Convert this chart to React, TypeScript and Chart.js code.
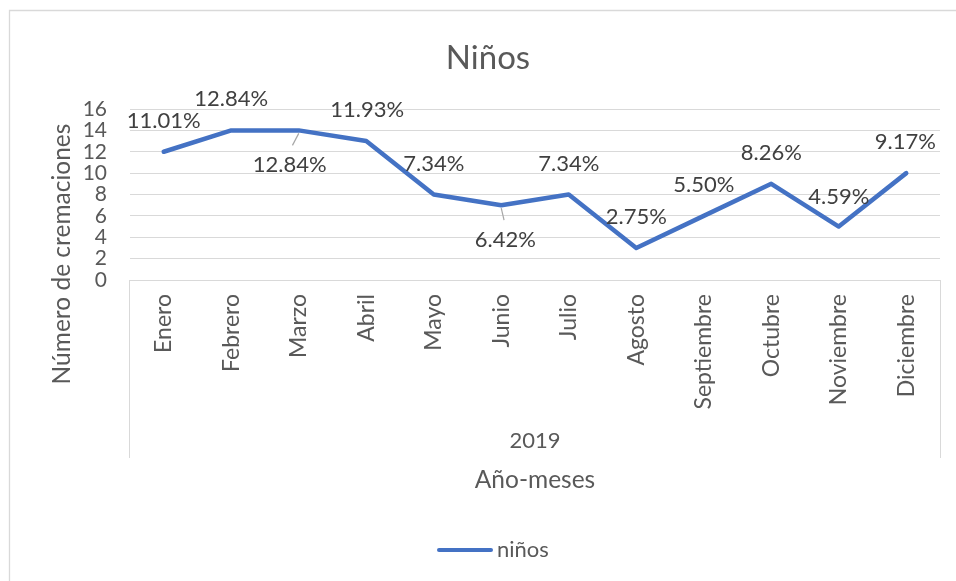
import React, { useEffect, useRef } from "react";
import { Chart, registerables } from "chart.js";

Chart.register(...registerables);

// Monthly cremation counts (children), 2019
const months = [
  "Enero", "Febrero", "Marzo", "Abril", "Mayo", "Junio",
  "Julio", "Agosto", "Septiembre", "Octubre", "Noviembre", "Diciembre",
];
const ninos = [12, 14, 14, 13, 8, 7, 8, 3, 6, 9, 5, 10];
const yTicks = [0, 2, 4, 6, 8, 10, 12, 14, 16];
const yearLabel = "2019";
const seriesName = "niños";

// Where each percentage label sits relative to its point (dx, dy)
const labelOffsets: [number, number][] = [
  [0, -31], [0, -31], [-9, 35], [1, -31], [0, -31], [4, 35],
  [0, -31], [0, -31], [0, -31], [0, -31], [0, -30], [-1, -31],
];
// Labels pulled away from their point get a short leader line
const leaderIdx = [2, 5];

const FONT = "Lato, 'Open Sans', sans-serif";
const TEXT = "#595959";
const LABEL = "#404040";
const GRID = "#d9d9d9";
const BLUE = "#4472C4";

const total = ninos.reduce((a, b) => a + b, 0);
const pctLabels = ninos.map((v) => ((v / total) * 100).toFixed(2) + "%");

const decorPlugin = {
  id: "decor",
  beforeDraw(chart: any) {
    const { ctx, chartArea, width, height } = chart;
    ctx.save();
    ctx.fillStyle = "#ffffff";
    ctx.fillRect(0, 0, width, height);
    // outer frame
    ctx.strokeStyle = GRID;
    ctx.lineWidth = 1.3;
    ctx.beginPath();
    ctx.moveTo(9.5, height + 2);
    ctx.lineTo(9.5, 10.5);
    ctx.lineTo(width + 2, 10.5);
    ctx.stroke();
    // category group box sides
    ctx.lineWidth = 1;
    ctx.beginPath();
    ctx.moveTo(Math.round(chartArea.left) - 0.5, chartArea.bottom);
    ctx.lineTo(Math.round(chartArea.left) - 0.5, 458);
    ctx.moveTo(Math.round(chartArea.right) + 0.5, chartArea.bottom);
    ctx.lineTo(Math.round(chartArea.right) + 0.5, 458);
    ctx.stroke();
    ctx.restore();
  },
  afterDraw(chart: any) {
    const { ctx, chartArea } = chart;
    const midX = (chartArea.left + chartArea.right) / 2;
    ctx.save();
    ctx.textAlign = "center";
    ctx.textBaseline = "middle";
    // title
    ctx.fillStyle = TEXT;
    ctx.font = `33px ${FONT}`;
    ctx.fillText("Niños", 488, 58);
    // group label and axis titles
    ctx.font = `22px ${FONT}`;
    ctx.fillText(yearLabel, midX, 441);
    ctx.font = `24.5px ${FONT}`;
    ctx.fillText("Año-meses", midX, 480);
    ctx.save();
    ctx.translate(62, 254);
    ctx.rotate(-Math.PI / 2);
    ctx.fillText("Número de cremaciones", 0, 0);
    ctx.restore();

    // legend: line sample + series name
    const ds = chart.data.datasets[0];
    ctx.strokeStyle = ds.borderColor;
    ctx.lineWidth = 4;
    ctx.lineCap = "round";
    ctx.beginPath();
    ctx.moveTo(439, 550);
    ctx.lineTo(491, 550);
    ctx.stroke();
    ctx.textAlign = "left";
    ctx.font = `22px ${FONT}`;
    ctx.fillStyle = TEXT;
    ctx.fillText(seriesName, 497, 550);

    // percentage labels
    ctx.textAlign = "center";
    const meta = chart.getDatasetMeta(0);
    ctx.font = `22px ${FONT}`;
    ctx.fillStyle = LABEL;
    ctx.lineCap = "butt";
    meta.data.forEach((pt: any, i: number) => {
      const [dx, dy] = labelOffsets[i];
      const lx = pt.x + dx;
      const ly = pt.y + dy;
      if (leaderIdx.includes(i)) {
        ctx.strokeStyle = "#a6a6a6";
        ctx.lineWidth = 1.2;
        ctx.beginPath();
        ctx.moveTo(pt.x, pt.y + 3);
        ctx.lineTo(pt.x + dx * 0.7, ly - 20);
        ctx.stroke();
      }
      ctx.fillText(pctLabels[i], lx, ly);
    });
    ctx.restore();
  },
};

export default function App() {
  const ref = useRef<HTMLCanvasElement>(null);

  useEffect(() => {
    if (!ref.current) return;
    const chart = new Chart(ref.current, {
      type: "line",
      data: {
        labels: months,
        datasets: [
          {
            label: seriesName,
            data: ninos,
            borderColor: BLUE,
            backgroundColor: BLUE,
            borderWidth: 4.5,
            pointRadius: 0,
            tension: 0,
            borderJoinStyle: "round",
            borderCapStyle: "round",
          },
        ],
      },
      options: {
        animation: false,
        responsive: false,
        layout: { padding: { top: 109, left: 0, right: 16, bottom: 0 } },
        plugins: {
          title: { display: false },
          tooltip: { enabled: false },
          legend: { display: false },
        },
        scales: {
          x: {
            offset: true,
            grid: { display: false, drawTicks: false },
            border: { display: true, color: GRID, width: 1 },
            ticks: {
              maxRotation: 90,
              minRotation: 90,
              padding: 14,
              autoSkip: false,
              color: TEXT,
              font: { family: FONT, size: 23 },
            },
            afterFit(scale: any) {
              scale.height = 301;
            },
          },
          y: {
            min: 0,
            max: 16,
            afterBuildTicks(scale: any) {
              scale.ticks = yTicks.map((v) => ({ value: v }));
            },
            grid: { color: GRID, lineWidth: 1, drawTicks: false },
            border: { display: false },
            ticks: {
              autoSkip: false,
              padding: 23,
              color: TEXT,
              font: { family: FONT, size: 21 },
            },
            afterFit(scale: any) {
              scale.width = 130;
            },
          },
        },
      },
      plugins: [decorPlugin],
    });
    return () => chart.destroy();
  }, []);

  return (
    <div style={{ position: "fixed", left: 0, top: 0, width: 956, height: 581, background: "#fff" }}>
      <canvas ref={ref} width={956} height={581} />
    </div>
  );
}
